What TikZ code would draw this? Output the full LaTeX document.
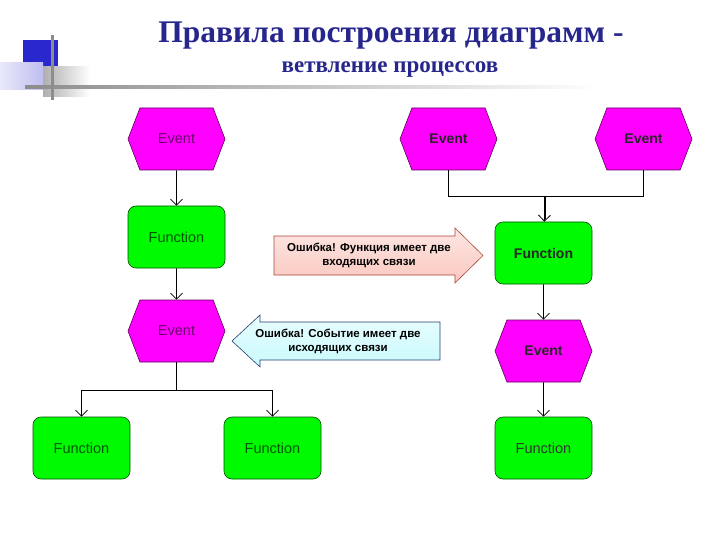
\documentclass[tikz,border=0pt]{standalone}
\usepackage{fontspec}
\setmainfont{Liberation Serif}
\setsansfont{Liberation Sans}
\usetikzlibrary{arrows.meta, shapes.symbols, calc}
\definecolor{TitleBlue}{RGB}{38,38,140}
\definecolor{DecoBlue}{RGB}{40,40,205}
\definecolor{DecoGrey}{RGB}{140,140,140}
\definecolor{EventFill}{RGB}{255,0,255}
\definecolor{EventLine}{RGB}{90,0,90}
\definecolor{EventText}{RGB}{105,0,105}
\definecolor{FuncFill}{RGB}{0,250,0}
\definecolor{FuncLine}{RGB}{0,80,0}
\definecolor{FuncText}{RGB}{0,85,0}
\definecolor{WarnPink}{RGB}{250,200,192}
\definecolor{WarnLine}{RGB}{170,70,60}
\definecolor{WarnCyan}{RGB}{200,250,253}
\definecolor{WarnBlue}{RGB}{40,60,110}

\tikzset{
  eventbox/.style={signal, signal to=west and east, signal pointer angle=138,
    draw=EventLine, fill=EventFill, line width=0.6pt, text=EventText,
    minimum width=97pt, minimum height=62pt, inner sep=0pt,
    font=\sffamily\fontsize{14.5}{16}\selectfont},
  funcbox/.style={rectangle, rounded corners=8pt, draw=FuncLine, fill=FuncFill,
    line width=0.6pt, text=FuncText, minimum width=97pt, minimum height=62pt,
    inner sep=0pt, font=\sffamily\fontsize{14.5}{16}\selectfont},
  darklabel/.style={text=black!85, font=\sffamily\bfseries\fontsize{14}{16}\selectfont},
  flow/.style={draw=black, line width=0.8pt,
    -{Straight Barb[length=6pt, width=12pt]}},
  warntext/.style={align=center, font=\sffamily\bfseries\fontsize{11.5}{14}\selectfont}
}

\begin{document}
\begin{tikzpicture}[x=1pt, y=-1pt]
\useasboundingbox (0,0) rectangle (720,540);

% corner decoration
\fill[DecoBlue] (23,40) rectangle (58,67);
\shade[left color=DecoBlue!10, right color=DecoBlue!30] (0,63) rectangle (43,90);
\shade[left color=DecoGrey!70, right color=white] (43,67) rectangle (90,97);
\shade[left color=DecoGrey, right color=white] (25,86) rectangle (600,89);
\fill[DecoGrey] (51,35) rectangle (54,100);

% title
\node[anchor=base, text=TitleBlue, font=\bfseries\fontsize{31.5}{34}\selectfont] (title) at (391,43) {Правила построения диаграмм -};
\node[anchor=base, text=TitleBlue, font=\bfseries\fontsize{23}{26}\selectfont] (subtitle) at (390,73) {ветвление процессов};

% left column
\node[eventbox] (evA) at (176.5,139) {Event};
\node[funcbox] (fnA) at (176.5,237) {Function};
\node[eventbox] (evB) at (176.5,331) {Event};
\node[funcbox] (fnL) at (81.5,448) {Function};
\node[funcbox] (fnM) at (272.5,448) {Function};

% right column
\node[eventbox, darklabel] (evM) at (448.5,139) {Event};
\node[eventbox, darklabel] (evR) at (643.5,139) {Event};
\node[funcbox, darklabel] (fnR) at (543.5,253) {Function};
\node[eventbox, darklabel] (evC) at (543.5,351) {Event};
\node[funcbox, text=black!80] (fnC) at (543.5,448) {Function};

% connectors, left
\draw[flow] (evA) -- (fnA);
\draw[flow] (fnA) -- (evB);
\coordinate (split) at (176.5,390);
\draw[flow] (evB) -- (split) -| (fnL);
\draw[flow] (split) -| (fnM);

% connectors, right
\coordinate (join) at (545,196);
\draw[line width=0.8pt] (evM) |- (join);
\draw[line width=0.8pt] (evR) |- (join);
\draw[line width=2pt] (join) -- ($(fnR.north)+(1.5,-3)$);
\draw[flow] (join) -- (fnR);
\draw[flow] (fnR) -- (evC);
\draw[flow] (evC) -- (fnC);

% error callouts
\shade[top color=WarnPink!45, bottom color=WarnPink, draw=WarnLine, line width=0.6pt]
  (274,236) -- (455,236) -- (455,228) -- (483,255.5) -- (455,283) -- (455,275) -- (274,275) -- cycle;
\node[warntext] (errIn) at (369,255) {Ошибка! Функция имеет две\\входящих связи};
\shade[top color=WarnCyan!40, bottom color=WarnCyan, draw=WarnBlue, line width=0.6pt]
  (440,322) -- (260,322) -- (260,315) -- (232,341) -- (260,367) -- (260,360) -- (440,360) -- cycle;
\node[warntext] (errOut) at (338,341) {Ошибка! Событие имеет две\\исходящих связи};

\end{tikzpicture}
\end{document}
